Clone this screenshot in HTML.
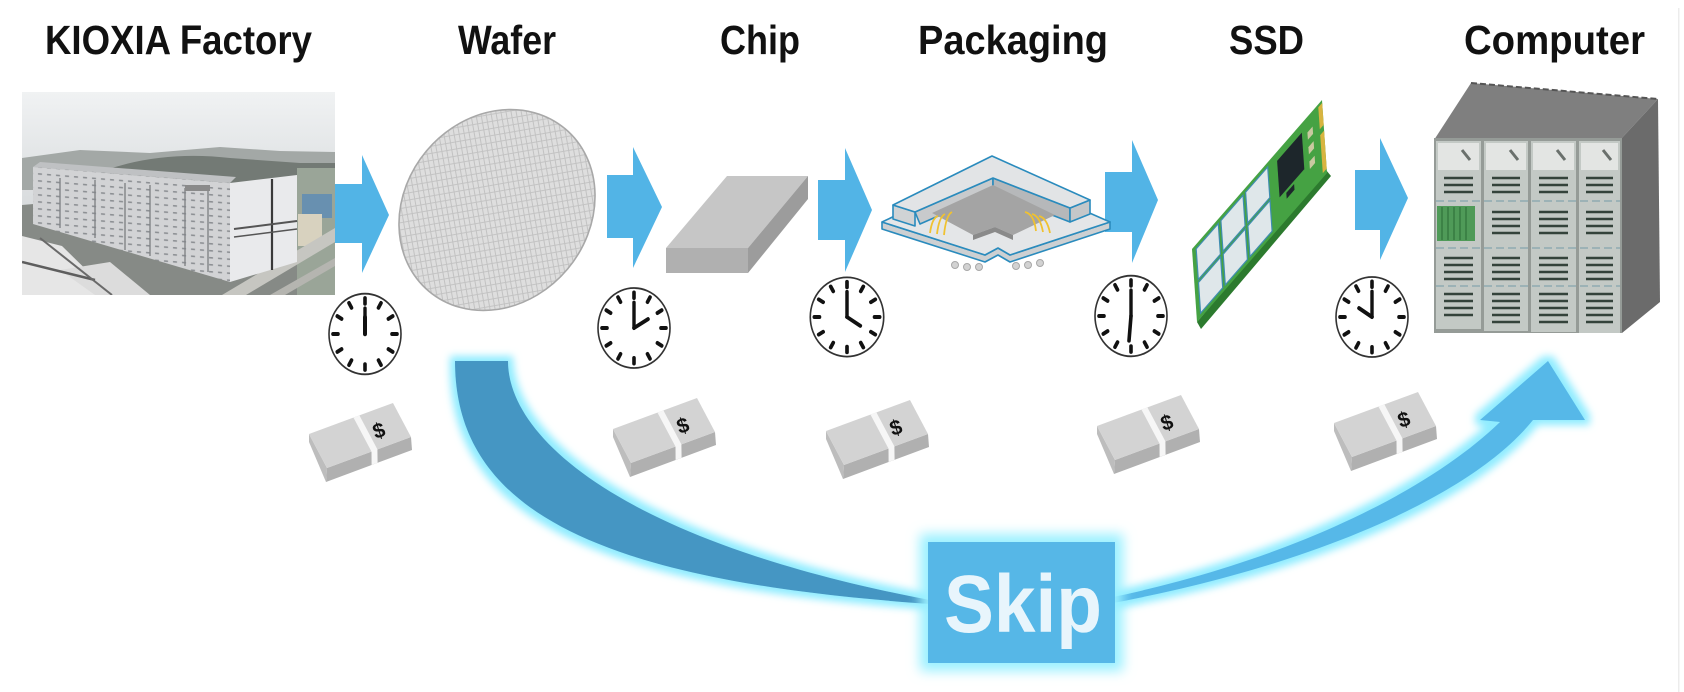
<!DOCTYPE html>
<html><head><meta charset="utf-8"><style>
html,body{margin:0;padding:0;background:#fff;}
svg{display:block;}
</style></head><body>
<svg width="1684" height="692" viewBox="0 0 1684 692" xmlns="http://www.w3.org/2000/svg">
<defs>
  <linearGradient id="sky" x1="0" y1="0" x2="0" y2="1">
    <stop offset="0" stop-color="#f0f2f3"/><stop offset="0.55" stop-color="#d9dcde"/><stop offset="1" stop-color="#c4c7c8"/>
  </linearGradient>
  <pattern id="grid" width="7" height="5" patternUnits="userSpaceOnUse" patternTransform="rotate(40)">
    <rect width="7" height="5" fill="#dedede"/>
    <path d="M0 0.5H7M0.5 0V5" stroke="#c2c2c2" stroke-width="0.9"/>
  </pattern>
  <pattern id="win" width="9" height="7" patternUnits="userSpaceOnUse" patternTransform="skewY(4.6)">
    <rect width="9" height="7" fill="#d2d3d5"/>
    <rect x="2" y="2" width="4" height="1.6" fill="#8d9094"/>
  </pattern>
  <clipPath id="photo"><rect x="22" y="92" width="313" height="203"/></clipPath>
  <filter id="glow" x="-20%" y="-20%" width="140%" height="140%">
    <feMorphology in="SourceAlpha" operator="dilate" radius="5" result="d"/>
    <feGaussianBlur in="d" stdDeviation="4" result="b"/>
    <feFlood flood-color="#8fecff"/>
    <feComposite in2="b" operator="in" result="g"/>
    <feMerge><feMergeNode in="g"/><feMergeNode in="SourceGraphic"/></feMerge>
  </filter>
  <filter id="glowbox" x="-20%" y="-40%" width="140%" height="180%">
    <feMorphology in="SourceAlpha" operator="dilate" radius="8" result="d"/>
    <feGaussianBlur in="d" stdDeviation="6" result="b"/>
    <feFlood flood-color="#9af0ff"/>
    <feComposite in2="b" operator="in" result="g"/>
    <feMerge><feMergeNode in="g"/><feMergeNode in="SourceGraphic"/></feMerge>
  </filter>
  <g id="dial">
    <circle r="36" fill="#fff" stroke="#333" stroke-width="1.6"/>
    <g stroke="#111" stroke-width="3.6" stroke-linecap="round">
      <line x1="0" y1="-32" x2="0" y2="-27"/>
      <line x1="0" y1="32" x2="0" y2="27"/>
      <line x1="-32" y1="0" x2="-27" y2="0"/>
      <line x1="32" y1="0" x2="27" y2="0"/>
      <line x1="16" y1="-27.7" x2="13.5" y2="-23.4"/>
      <line x1="27.7" y1="-16" x2="23.4" y2="-13.5"/>
      <line x1="27.7" y1="16" x2="23.4" y2="13.5"/>
      <line x1="16" y1="27.7" x2="13.5" y2="23.4"/>
      <line x1="-16" y1="27.7" x2="-13.5" y2="23.4"/>
      <line x1="-27.7" y1="16" x2="-23.4" y2="13.5"/>
      <line x1="-27.7" y1="-16" x2="-23.4" y2="-13.5"/>
      <line x1="-16" y1="-27.7" x2="-13.5" y2="-23.4"/>
    </g>
    <line x1="0" y1="0" x2="0" y2="-23" stroke="#111" stroke-width="3.4" stroke-linecap="round"/>
  </g>
  <g id="bill">
    <polygon points="0,31 18,65 17,79 0,39" fill="#bdbdbd"/>
    <polygon points="18,65 102,34 103,47 17,79" fill="#b0b0b0"/>
    <polygon points="0,31 84,0 102,34 18,65" fill="#d3d3d3"/>
    <polygon points="44.5,14.6 50.4,12.4 68.4,46.4 68.6,59.8 62.6,62 62.5,48.6" fill="#f6f6f6"/>
  </g>
</defs>

<rect width="1684" height="692" fill="#fff"/>
<rect x="1678" y="8" width="1.5" height="684" fill="#ececec"/>

<!-- Titles -->
<g font-family="Liberation Sans, Arial, sans-serif" font-weight="bold" font-size="41" fill="#111">
  <text x="45" y="54" textLength="267" lengthAdjust="spacingAndGlyphs">KIOXIA Factory</text>
  <text x="458" y="54" textLength="98" lengthAdjust="spacingAndGlyphs">Wafer</text>
  <text x="720" y="54" textLength="80" lengthAdjust="spacingAndGlyphs">Chip</text>
  <text x="918" y="54" textLength="190" lengthAdjust="spacingAndGlyphs">Packaging</text>
  <text x="1229" y="54" textLength="75" lengthAdjust="spacingAndGlyphs">SSD</text>
  <text x="1464" y="54" textLength="181" lengthAdjust="spacingAndGlyphs">Computer</text>
</g>

<!-- Factory photo -->
<g clip-path="url(#photo)">
  <rect x="22" y="92" width="313" height="203" fill="url(#sky)"/>
  <path d="M22,158 L80,150 L150,153 L220,147 L280,151 L335,152 L335,190 L22,190 Z" fill="#a3a8a6"/>
  <path d="M100,172 Q160,150 230,158 L300,163 L335,163 L335,195 L100,195 Z" fill="#737a75"/>
  <polygon points="22,205 335,178 335,295 22,295" fill="#868a86"/>
  <rect x="297" y="168" width="38" height="127" fill="#9aa598"/>
  <rect x="302" y="194" width="30" height="24" fill="#6890b0"/>
  <rect x="298" y="214" width="24" height="32" fill="#d8d2bf"/>
  <polygon points="222,295 335,228 335,242 246,295" fill="#c6c6c1"/>
  <polygon points="270,295 335,258 335,266 285,295" fill="#b5b5b0"/>
  <polygon points="22,236 62,246 112,295 22,295" fill="#e6e6e6"/>
  <polygon points="60,270 110,262 150,295 95,295" fill="#dcdcdc"/>
  <line x1="22" y1="262" x2="95" y2="280" stroke="#5e5e5e" stroke-width="2.5"/>
  <line x1="40" y1="238" x2="112" y2="295" stroke="#6a6a6a" stroke-width="2"/>
  <polygon points="33,167 40,162 236,177 230,183" fill="#bfc1c3"/>
  <polygon points="33,167 230,183 230,282 33,224" fill="url(#win)"/>
  <g stroke="#7f8286" stroke-width="1.6" opacity="0.85">
    <line x1="60" y1="178" x2="60" y2="228"/><line x1="95" y1="180" x2="95" y2="238"/>
    <line x1="125" y1="183" x2="125" y2="250"/><line x1="150" y1="185" x2="150" y2="256"/>
    <line x1="185" y1="188" x2="185" y2="266"/><line x1="208" y1="190" x2="208" y2="272"/>
  </g>
  <rect x="185" y="185" width="25" height="6" fill="#8a8a8a"/>
  <polygon points="230,183 297,175 297,262 230,282" fill="#e9eaec"/>
  <line x1="272" y1="179" x2="272" y2="270" stroke="#3a3a3a" stroke-width="2.2"/>
  <line x1="234" y1="229" x2="297" y2="221" stroke="#555" stroke-width="2"/>
  <line x1="234" y1="237" x2="297" y2="229" stroke="#555" stroke-width="1.5"/>
</g>

<!-- Flow arrows -->
<g fill="#52b4e6">
  <polygon points="335,184 362,184 362,155 389,215 362,273 362,243 335,243"/>
  <polygon points="607,175 633,175 633,147 662,207 633,268 633,238 607,238"/>
  <polygon points="818,180 845,180 845,148 872,210 845,272 845,240 818,240"/>
  <polygon points="1105,172 1132,172 1132,140 1158,200 1132,263 1132,232 1105,232"/>
  <polygon points="1355,170 1380,170 1380,138 1408,198 1380,260 1380,230 1355,230"/>
</g>

<!-- Wafer -->
<ellipse cx="497" cy="210" rx="92" ry="106" transform="rotate(40 497 210)" fill="url(#grid)" stroke="#a8a8a8" stroke-width="1.6"/>

<!-- Chip -->
<polygon points="666,248 748,248 808,176 727,176" fill="#c6c6c6"/>
<polygon points="666,248 748,248 748,273 666,273" fill="#b0b0b0"/>
<polygon points="748,248 808,176 808,199 748,273" fill="#9c9c9c"/>

<!-- Packaging -->
<g stroke="#2a8bbd" stroke-width="1.6" stroke-linejoin="round">
  <polygon points="882,222 985,255 998,248 1010,255 1110,222 1110,229 1010,262 998,255 985,262 882,229" fill="#cdd0d2"/>
  <polygon points="882,222 992,170 1110,222 1010,255 998,248 985,255" fill="#e4e6e8"/>
  <polygon points="915,212 993,178 993,192 920,224" fill="#c8cacc"/>
  <polygon points="993,178 1070,208 1070,222 993,192" fill="#b6b8ba"/>
</g>
<g fill="#d2d2d2" stroke="#a8a8a8" stroke-width="1">
  <circle cx="955" cy="265" r="3.5"/><circle cx="967" cy="267" r="3.5"/><circle cx="979" cy="267" r="3.5"/>
  <circle cx="1016" cy="266" r="3.5"/><circle cx="1028" cy="265" r="3.5"/><circle cx="1040" cy="263" r="3.5"/>
</g>
<polygon points="932,213 993,185 1055,215 1013,235 995,227 973,235" fill="#a4a4a4"/>
<polygon points="973,235 995,227 1013,235 1013,240 995,232 973,240" fill="#8a8a8a"/>
<g fill="none" stroke="#f0c230" stroke-width="1.8">
  <path d="M938,216 Q932,218 930,233"/><path d="M945,214 Q939,217 937,234"/><path d="M952,212 Q946,215 944,235"/>
  <path d="M1025,212 Q1034,214 1036,231"/><path d="M1032,214 Q1040,216 1043,232"/><path d="M1039,216 Q1047,218 1050,233"/>
</g>
<g stroke="#2a8bbd" stroke-width="1.6" stroke-linejoin="round">
  <polygon points="893,205 915,212 915,226 893,219" fill="#d0d3d5"/>
  <polygon points="1090,200 1070,208 1070,222 1090,214" fill="#c4c7c9"/>
  <polygon points="893,205 992,156 1090,200 1070,208 993,178 915,212" fill="#e2e4e6"/>
</g>

<!-- SSD -->
<polygon points="1197,322 1326,170 1331,176 1201,329" fill="#2c7a2e"/>
<g transform="matrix(1.30,-1.49,0.05,0.73,1192,249)">
  <rect x="0" y="0" width="100" height="100" fill="#45a243"/>
  <g fill="#dfe7ea" stroke="#3f8db0" stroke-width="1.2">
    <rect x="3" y="6" width="17" height="42" vector-effect="non-scaling-stroke"/>
    <rect x="3" y="52" width="17" height="42" vector-effect="non-scaling-stroke"/>
    <rect x="22" y="6" width="17" height="42" vector-effect="non-scaling-stroke"/>
    <rect x="22" y="52" width="17" height="42" vector-effect="non-scaling-stroke"/>
    <rect x="41" y="6" width="17" height="42" vector-effect="non-scaling-stroke"/>
    <rect x="41" y="52" width="17" height="42" vector-effect="non-scaling-stroke"/>
  </g>
  <rect x="65" y="12" width="19" height="50" fill="#1d262b"/>
  <rect x="70" y="66" width="6" height="8" fill="#1d262b"/>
  <rect x="88" y="20" width="4" height="10" fill="#c9c9a0"/>
  <rect x="88" y="40" width="4" height="10" fill="#c9c9a0"/>
  <rect x="88" y="60" width="4" height="10" fill="#c9c9a0"/>
  <rect x="97" y="4" width="3" height="30" fill="#d8b440"/>
  <rect x="97" y="42" width="3" height="52" fill="#d8b440"/>
</g>

<!-- Computer -->
<polygon points="1434,140 1471,83 1658,99 1620,140" fill="#7f7f7f"/>
<line x1="1471" y1="83" x2="1658" y2="99" stroke="#555" stroke-width="2" stroke-dasharray="6 3"/>
<polygon points="1620,140 1658,99 1660,302 1622,333" fill="#6b6b6b"/>
<rect x="1434" y="138" width="188" height="195" fill="#959b97"/>
<g>
  <rect x="1436" y="141" width="45" height="188" fill="#c3c9c5"/>
  <rect x="1484" y="141" width="44" height="190" fill="#c3c9c5"/>
  <rect x="1531" y="141" width="45" height="191" fill="#c3c9c5"/>
  <rect x="1579" y="141" width="41" height="192" fill="#c3c9c5"/>
  <g fill="#e3e5e3">
    <rect x="1438" y="143" width="41" height="27"/><rect x="1486" y="143" width="40" height="27"/>
    <rect x="1533" y="143" width="41" height="27"/><rect x="1581" y="143" width="37" height="27"/>
  </g>
  <g stroke="#6a706c" stroke-width="3">
    <line x1="1462" y1="150" x2="1470" y2="160"/><line x1="1510" y1="150" x2="1518" y2="160"/>
    <line x1="1557" y1="150" x2="1565" y2="160"/><line x1="1603" y1="150" x2="1611" y2="160"/>
  </g>
  <rect x="1437" y="206" width="38" height="35" fill="#4f9a58"/>
  <g stroke="#377a40" stroke-width="1.5">
    <line x1="1442" y1="207" x2="1442" y2="240"/><line x1="1448" y1="207" x2="1448" y2="240"/>
    <line x1="1454" y1="207" x2="1454" y2="240"/><line x1="1460" y1="207" x2="1460" y2="240"/>
    <line x1="1466" y1="207" x2="1466" y2="240"/>
  </g>
  <g stroke="#9cb2b6" stroke-width="2" stroke-dasharray="8 4">
    <line x1="1436" y1="201" x2="1620" y2="201"/><line x1="1436" y1="248" x2="1620" y2="248"/>
    <line x1="1436" y1="286" x2="1620" y2="286"/>
  </g>
  <g stroke="#34433b" stroke-width="2.4">
    <path d="M1444,178H1473M1444,185H1473M1444,192H1473M1444,258H1473M1444,265H1473M1444,272H1473M1444,279H1473M1444,294H1473M1444,301H1473M1444,308H1473M1444,315H1473"/>
    <path d="M1492,178H1520M1492,185H1520M1492,192H1520M1492,212H1520M1492,219H1520M1492,226H1520M1492,233H1520M1492,258H1520M1492,265H1520M1492,272H1520M1492,279H1520M1492,294H1520M1492,301H1520M1492,308H1520M1492,315H1520M1492,322H1520"/>
    <path d="M1539,178H1568M1539,185H1568M1539,192H1568M1539,212H1568M1539,219H1568M1539,226H1568M1539,233H1568M1539,258H1568M1539,265H1568M1539,272H1568M1539,279H1568M1539,294H1568M1539,301H1568M1539,308H1568M1539,315H1568M1539,322H1568"/>
    <path d="M1586,178H1613M1586,185H1613M1586,192H1613M1586,212H1613M1586,219H1613M1586,226H1613M1586,233H1613M1586,258H1613M1586,265H1613M1586,272H1613M1586,279H1613M1586,294H1613M1586,301H1613M1586,308H1613M1586,315H1613M1586,322H1613"/>
  </g>
</g>

<!-- Clocks -->
<g transform="translate(365,334) scale(1,1.12)"><use href="#dial"/><line x1="0" y1="0" x2="0" y2="-15" stroke="#111" stroke-width="4" stroke-linecap="round"/></g>
<g transform="translate(634,328) scale(1,1.11)"><use href="#dial"/><line x1="0" y1="0" x2="14" y2="-8" stroke="#111" stroke-width="3.6" stroke-linecap="round"/></g>
<g transform="translate(847,317) scale(1.02,1.1)"><use href="#dial"/><line x1="0" y1="0" x2="13" y2="8" stroke="#111" stroke-width="3.6" stroke-linecap="round"/></g>
<g transform="translate(1131,316) scale(1,1.12)"><use href="#dial"/><line x1="0" y1="0" x2="-2" y2="22" stroke="#111" stroke-width="3.6" stroke-linecap="round"/></g>
<g transform="translate(1372,317) scale(1,1.11)"><use href="#dial"/><line x1="0" y1="0" x2="-13" y2="-8" stroke="#111" stroke-width="3.6" stroke-linecap="round"/></g>

<!-- Money -->
<g font-family="Liberation Sans, Arial, sans-serif" font-weight="bold" font-size="21" fill="#111">
  <g transform="translate(309,403)"><use href="#bill"/><text x="64" y="34" transform="rotate(-18 72 27)">$</text></g>
  <g transform="translate(613,398)"><use href="#bill"/><text x="64" y="34" transform="rotate(-18 72 27)">$</text></g>
  <g transform="translate(826,400)"><use href="#bill"/><text x="64" y="34" transform="rotate(-18 72 27)">$</text></g>
  <g transform="translate(1097,395)"><use href="#bill"/><text x="64" y="34" transform="rotate(-18 72 27)">$</text></g>
  <g transform="translate(1334,392)"><use href="#bill"/><text x="64" y="34" transform="rotate(-18 72 27)">$</text></g>
</g>

<!-- Skip arc -->
<path filter="url(#glow)" fill="#4596c3" d="M455,361 C455,511 598,581 930,604 L930,600 C628,543 508,440 508,361 Z"/>
<path filter="url(#glow)" fill="#56b8e8" d="M1113,603 C1315,565 1473,495 1533,420 L1585,420 L1548,361 L1480,420 L1500,422 C1430,490 1290,560 1113,597 Z"/>
<rect filter="url(#glowbox)" x="928" y="542" width="187" height="121" fill="#56b7e7"/>
<text x="944" y="632" font-family="Liberation Sans, Arial, sans-serif" font-weight="bold" font-size="82" fill="#e8f5fc" textLength="158" lengthAdjust="spacingAndGlyphs">Skip</text>
</svg>
</body></html>
